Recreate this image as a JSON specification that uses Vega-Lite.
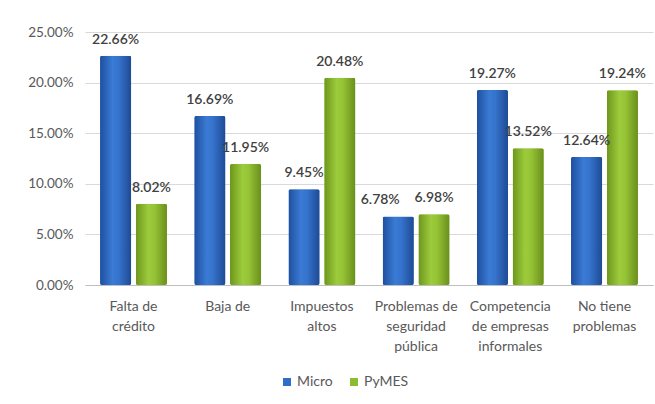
{
  "$schema": "https://vega.github.io/schema/vega-lite/v6.json",
  "width": 568,
  "height": 253,
  "autosize": {"type": "none"},
  "padding": {"left": 85, "top": 32, "right": 2, "bottom": 119},
  "background": "white",
  "config": {
    "view": {"stroke": null},
    "font": "Lato",
    "axis": {"labelFont": "Lato", "labelColor": "#595959", "labelFontSize": 13.5}
  },
  "data": {
    "values": [
      {"cat": "Falta de|crédito", "serie": "Micro", "value": 0.2266},
      {"cat": "Falta de|crédito", "serie": "PyMES", "value": 0.0802},
      {"cat": "Baja de", "serie": "Micro", "value": 0.1669},
      {"cat": "Baja de", "serie": "PyMES", "value": 0.1195},
      {"cat": "Impuestos|altos", "serie": "Micro", "value": 0.0945},
      {"cat": "Impuestos|altos", "serie": "PyMES", "value": 0.2048},
      {"cat": "Problemas de|seguridad|pública", "serie": "Micro", "value": 0.0678},
      {"cat": "Problemas de|seguridad|pública", "serie": "PyMES", "value": 0.0698},
      {"cat": "Competencia|de empresas|informales", "serie": "Micro", "value": 0.1927},
      {"cat": "Competencia|de empresas|informales", "serie": "PyMES", "value": 0.1352},
      {"cat": "No tiene|problemas", "serie": "Micro", "value": 0.1264},
      {"cat": "No tiene|problemas", "serie": "PyMES", "value": 0.1924}
    ]
  },
  "encoding": {
    "x": {
      "field": "cat", "type": "nominal", "sort": null, "title": null,
      "scale": {"paddingInner": 0.29, "paddingOuter": 0.16},
      "axis": {
        "labelAngle": 0, "labelExpr": "split(datum.label, '|')", "labelLineHeight": 20, "labelFontSize": 14,
        "labelPadding": 14, "ticks": false, "domainColor": "#bfbfbf", "labelBaseline": "top"
      }
    },
    "xOffset": {"field": "serie", "type": "nominal", "scale": {"domain": ["Micro", "PyMES"], "paddingInner": 0.13}},
    "y": {
      "field": "value", "type": "quantitative", "title": null,
      "scale": {"domain": [0, 0.25], "nice": false},
      "axis": {"format": ".2%", "values": [0, 0.05, 0.1, 0.15, 0.2, 0.25], "domain": false, "ticks": false, "labelPadding": 12, "gridColor": "#d9d9d9"}
    }
  },
  "layer": [
    {
      "mark": {"type": "bar", "cornerRadius": 2},
      "encoding": {
        "fill": {
          "field": "serie", "type": "nominal", "title": null,
          "scale": {"domain": ["Micro", "PyMES"], "range": ["#2f6dc6", "#8cbc30"]},
          "legend": {
            "orient": "none", "direction": "horizontal", "legendX": 195, "legendY": 343,
            "symbolType": "square", "symbolSize": 64, "labelFontSize": 14, "labelColor": "#595959",
            "labelFont": "Lato", "columnPadding": 14, "symbolStrokeWidth": 0, "labelOffset": 3
          }
        }
      }
    },
    {
      "transform": [{"filter": "datum.serie == 'Micro'"}],
      "mark": {"type": "bar", "cornerRadius": 2, "fill": {"gradient": "linear", "x1": 0, "y1": 0, "x2": 1, "y2": 0, "stops": [{"offset": 0, "color": "#1f4f9e"}, {"offset": 0.4, "color": "#3a7bd5"}, {"offset": 0.6, "color": "#3573cc"}, {"offset": 1, "color": "#1e4a94"}]}},
      "encoding": {}
    },
    {
      "transform": [{"filter": "datum.serie == 'PyMES'"}],
      "mark": {"type": "bar", "cornerRadius": 2, "fill": {"gradient": "linear", "x1": 0, "y1": 0, "x2": 1, "y2": 0, "stops": [{"offset": 0, "color": "#6d961c"}, {"offset": 0.4, "color": "#9ccb3c"}, {"offset": 0.6, "color": "#95c335"}, {"offset": 1, "color": "#6a8f1c"}]}},
      "encoding": {}
    },
    {
      "transform": [{"filter": "!(datum.serie == 'Micro' && indexof(datum.cat, 'Problemas') == 0)"}],
      "mark": {"type": "text", "baseline": "bottom", "dy": -9, "fontSize": 14, "color": "#404040", "fontWeight": 600},
      "encoding": {
        "text": {"field": "value", "type": "quantitative", "format": ".2%"}
      }
    },
    {
      "transform": [{"filter": "datum.serie == 'Micro' && indexof(datum.cat, 'Problemas') == 0"}],
      "mark": {"type": "text", "baseline": "bottom", "dy": -9, "dx": -18, "fontSize": 14, "color": "#404040", "fontWeight": 600},
      "encoding": {
        "text": {"field": "value", "type": "quantitative", "format": ".2%"}
      }
    }
  ]
}
